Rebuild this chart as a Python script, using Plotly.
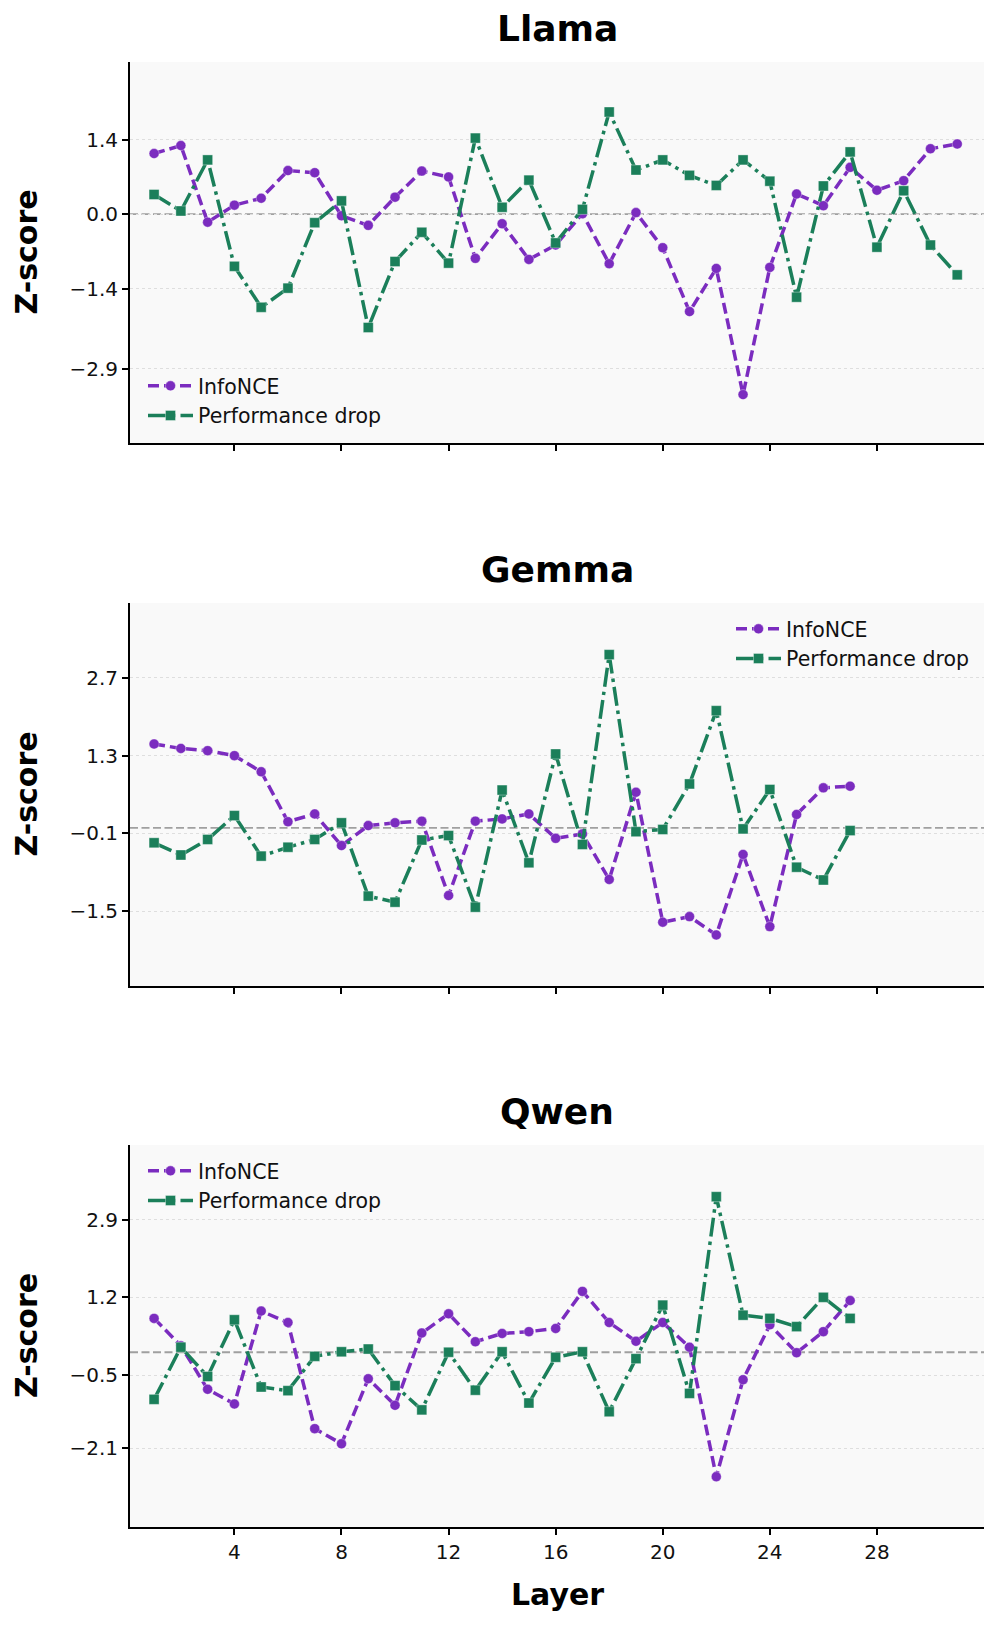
import plotly.graph_objects as go
from plotly.subplots import make_subplots

# ---------------- data ----------------
models = ["Llama", "Gemma", "Qwen"]

llama_layers = list(range(1, 32))
llama_infonce = [1.14, 1.29, -0.15, 0.17, 0.30, 0.82, 0.78, -0.03, -0.21, 0.32,
                 0.81, 0.70, -0.83, -0.18, -0.85, -0.58, 0.01, -0.93, 0.03, -0.63,
                 -1.83, -1.02, -3.39, -1.00, 0.38, 0.16, 0.88, 0.45, 0.63, 1.23, 1.32]
llama_perf = [0.37, 0.06, 1.02, -0.98, -1.75, -1.39, -0.16, 0.25, -2.13, -0.89,
              -0.34, -0.92, 1.43, 0.13, 0.64, -0.54, 0.09, 1.92, 0.83, 1.02,
              0.73, 0.54, 1.02, 0.62, -1.56, 0.53, 1.17, -0.62, 0.44, -0.58, -1.14]

gemma_layers = list(range(1, 28))
gemma_infonce = [1.51, 1.43, 1.39, 1.30, 1.01, 0.11, 0.25, -0.32, 0.04, 0.09,
                 0.12, -1.22, 0.12, 0.16, 0.25, -0.19, -0.11, -0.93, 0.64, -1.70,
                 -1.60, -1.93, -0.48, -1.78, 0.24, 0.72, 0.75]
gemma_perf = [-0.27, -0.49, -0.21, 0.22, -0.51, -0.35, -0.21, 0.09, -1.23, -1.34,
              -0.22, -0.14, -1.43, 0.68, -0.63, 1.33, -0.30, 3.12, -0.07, -0.03,
              0.79, 2.11, -0.02, 0.69, -0.71, -0.94, -0.05]

qwen_layers = list(range(1, 28))
qwen_infonce = [0.74, 0.14, -0.81, -1.13, 0.90, 0.65, -1.67, -2.00, -0.58, -1.16,
                0.42, 0.84, 0.23, 0.41, 0.45, 0.52, 1.33, 0.65, 0.24, 0.65,
                0.11, -2.72, -0.60, 0.60, -0.01, 0.45, 1.13]
qwen_perf = [-1.03, 0.11, -0.53, 0.71, -0.76, -0.84, -0.09, 0.01, 0.07, -0.73,
             -1.26, 0.00, -0.83, 0.01, -1.11, -0.11, 0.01, -1.30, -0.14, 1.03,
             -0.90, 3.40, 0.81, 0.74, 0.56, 1.20, 0.74]

llama_yticks = [-2.9, -1.4, 0.0, 1.4]
gemma_yticks = [-1.5, -0.1, 1.3, 2.7]
qwen_yticks = [-2.1, -0.5, 1.2, 2.9]
x_ticks = [4, 8, 12, 16, 20, 24, 28]

series_names = ["InfoNCE", "Performance drop"]

# ---------------- styling ----------------
W, H = 997, 1625
ML, MR, MT, MB = 130, 13, 62, 98
PH = H - MT - MB
PW = W - ML - MR

def py(pix):  # pixel y -> paper y
    return (H - MB - pix) / PH

def px(pix):
    return (pix - ML) / PW

PURPLE = "#7B2CBF"
GREEN = "#1B7F5A"
FONT = "DejaVu Sans"

panels = [
    (models[0], llama_layers, llama_infonce, llama_perf, llama_yticks, [-4.30, 2.86], (62, 443)),
    (models[1], gemma_layers, gemma_infonce, gemma_perf, gemma_yticks, [-2.85, 4.05], (603, 986)),
    (models[2], qwen_layers, qwen_infonce, qwen_perf, qwen_yticks, [-3.82, 4.53], (1145, 1527)),
]

legend_pos = [
    dict(x=px(143), y=py(436), xanchor="left", yanchor="bottom"),
    dict(x=px(974), y=py(609), xanchor="right", yanchor="top"),
    dict(x=px(143), y=py(1151), xanchor="left", yanchor="top"),
]

fig = make_subplots(rows=3, cols=1)

layout_upd = {}
annotations = []
for i, (name, layers, inf, perf, yt, yr, (top, bot)) in enumerate(panels):
    r = i + 1
    lg = "legend" if i == 0 else f"legend{i+1}"
    fig.add_trace(go.Scatter(
        x=layers, y=inf, name=series_names[0], mode="lines+markers",
        line=dict(color=PURPLE, width=3.5, dash="11px,5px"),
        marker=dict(symbol="circle", size=10, color=PURPLE,
                    line=dict(color="rgba(255,255,255,0.6)", width=0.6)),
        legend=lg), row=r, col=1)
    fig.add_trace(go.Scatter(
        x=layers, y=perf, name=series_names[1], mode="lines+markers",
        line=dict(color=GREEN, width=3.5, dash="19px,5px,3.5px,5px"),
        marker=dict(symbol="square", size=10, color=GREEN,
                    line=dict(color="rgba(255,255,255,0.6)", width=0.6)),
        legend=lg), row=r, col=1)
    fig.add_hline(y=0, line=dict(color="#a0a0a0", width=1.8, dash="8px,3.5px"),
                  row=r, col=1, layer="below")

    xa = "xaxis" if i == 0 else f"xaxis{r}"
    ya = "yaxis" if i == 0 else f"yaxis{r}"
    layout_upd[xa] = dict(
        domain=[0, 1], range=[0.1, 32], tickvals=x_ticks,
        ticktext=[str(t) for t in x_ticks], showticklabels=(i == 2),
        ticks="outside", ticklen=6, tickwidth=1.5, tickcolor="black",
        showline=True, linecolor="black", linewidth=2, showgrid=False,
        zeroline=False, tickfont=dict(family=FONT, size=20, color="#111"),
    )
    layout_upd[ya] = dict(
        domain=[py(bot), py(top)], range=yr, tickvals=yt,
        ticktext=[f"{v:.1f}".replace("-", "\u2212") for v in yt],
        ticks="outside", ticklen=6, tickwidth=1.5, tickcolor="black",
        showline=True, linecolor="black", linewidth=2,
        showgrid=True, gridcolor="#dedede", griddash="dot", gridwidth=1,
        zeroline=False, tickfont=dict(family=FONT, size=20, color="#111"),
    )
    layout_upd[lg] = dict(
        **legend_pos[i], bgcolor="rgba(0,0,0,0)", borderwidth=0,
        font=dict(family=FONT, size=20.5, color="#111"), itemwidth=45,
        tracegroupgap=0,
    )
    # title
    annotations.append(dict(
        text=name, xref="paper", yref="paper", x=0.5, y=py(top - 34),
        xanchor="center", yanchor="middle", showarrow=False,
        font=dict(family=FONT, size=36, color="black", weight="bold")))
    # y label
    annotations.append(dict(
        text="Z-score", xref="paper", yref="paper", x=px(26), y=py((top + bot) / 2),
        xanchor="center", yanchor="middle", showarrow=False, textangle=-90,
        font=dict(family=FONT, size=30, color="black", weight="bold")))

annotations.append(dict(
    text="Layer", xref="paper", yref="paper", x=0.5, y=py(1595),
    xanchor="center", yanchor="middle", showarrow=False,
    font=dict(family=FONT, size=30, color="black", weight="bold")))

fig.update_layout(
    width=W, height=H, margin=dict(l=ML, r=MR, t=MT, b=MB),
    paper_bgcolor="white", plot_bgcolor="#f9f9f9",
    font=dict(family=FONT, color="black"),
    annotations=annotations, showlegend=True,
    **layout_upd,
)

fig.write_html("out.html")
